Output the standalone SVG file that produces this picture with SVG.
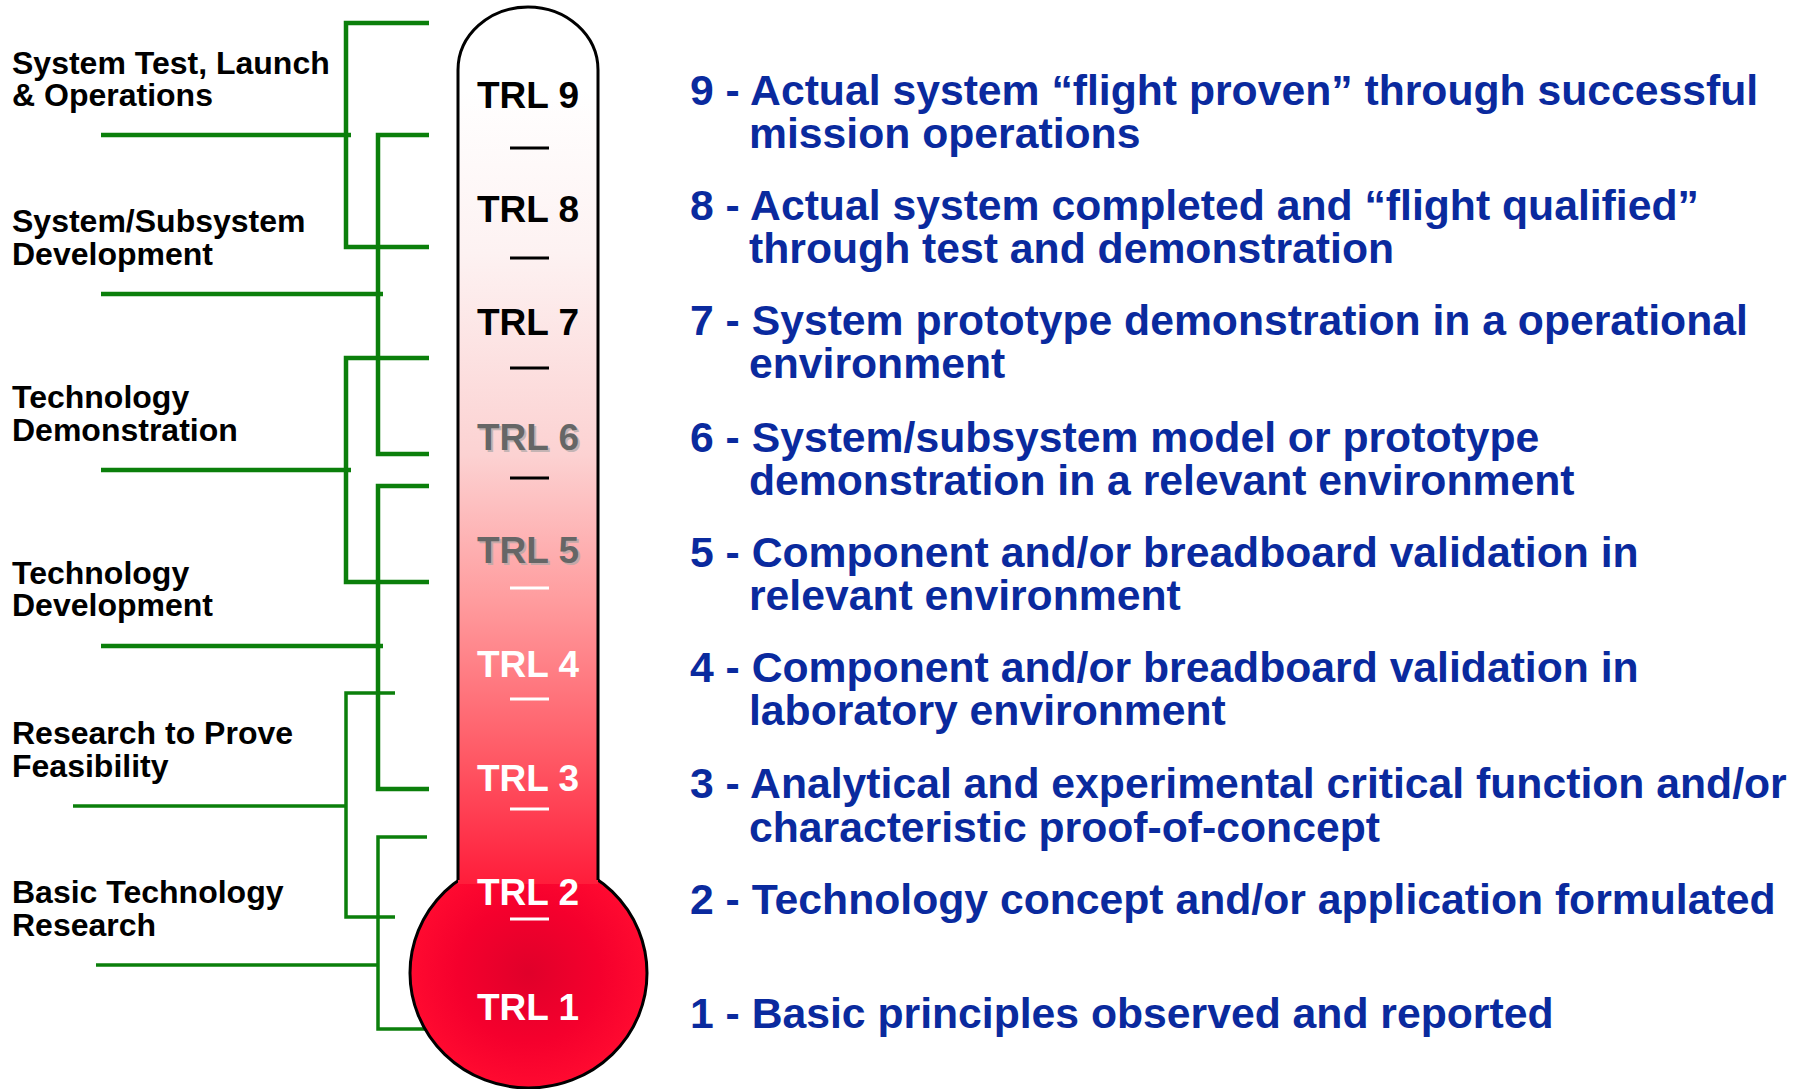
<svg xmlns="http://www.w3.org/2000/svg" width="1804" height="1089" viewBox="0 0 1804 1089">
<defs>
<linearGradient id="tubeGrad" gradientUnits="userSpaceOnUse" x1="0" y1="90" x2="0" y2="900">
<stop offset="0" stop-color="#ffffff"/>
<stop offset="0.2" stop-color="#fdf2f2"/>
<stop offset="0.45" stop-color="#fcd2d2"/>
<stop offset="0.63" stop-color="#ff9c9e"/>
<stop offset="0.82" stop-color="#ff5a66"/>
<stop offset="1" stop-color="#ff1535"/>
</linearGradient>
<radialGradient id="bulbGrad" cx="0.5" cy="0.5" r="0.5">
<stop offset="0" stop-color="#e0002a"/>
<stop offset="0.6" stop-color="#f5002d"/>
<stop offset="1" stop-color="#ff0a30"/>
</radialGradient>
</defs>
<style>
.lbl{font-family:"Liberation Sans",Arial,sans-serif;font-weight:bold;font-size:32px;fill:#000}
.trl{font-family:"Liberation Sans",Arial,sans-serif;font-weight:bold;font-size:37px;text-anchor:middle}
.desc{font-family:"Liberation Sans",Arial,sans-serif;font-weight:bold;font-size:42.7px;fill:#0a2a9e}
.g{fill:none;stroke:#0b7f0b;stroke-width:4.5;stroke-linejoin:miter}
.gt{fill:none;stroke:#0b7f0b;stroke-width:3.5;stroke-linejoin:miter}
.dk{stroke:#000;stroke-width:3}
.dw{stroke:#fff;stroke-width:3}
</style>
<rect x="0" y="0" width="1804" height="1089" fill="#ffffff"/>

<g id="connectors">
<polyline class="g" points="429,23 346,23 346,247 429,247"/>
<line class="g" x1="101" y1="135" x2="351" y2="135"/>
<polyline class="g" points="429,135 378,135 378,454 429,454"/>
<line class="g" x1="101" y1="294" x2="383" y2="294"/>
<polyline class="g" points="429,358 346,358 346,582 429,582"/>
<line class="g" x1="101" y1="470" x2="351" y2="470"/>
<polyline class="g" points="429,486 378,486 378,789 429,789"/>
<line class="g" x1="101" y1="646" x2="383" y2="646"/>
<polyline class="gt" points="395,693 346,693 346,917 395,917"/>
<line class="gt" x1="73" y1="806" x2="346" y2="806"/>
<polyline class="gt" points="427,837 378,837 378,1029 425,1029"/>
<line class="gt" x1="96" y1="965" x2="378" y2="965"/>
</g>

<g id="thermometer">
<ellipse cx="528.5" cy="973" rx="118.5" ry="115" fill="url(#bulbGrad)" stroke="#000" stroke-width="3"/>
<path d="M458,70 A70,63 0 0 1 598,70 L598,884 L458,884 Z" fill="url(#tubeGrad)"/>
<path d="M458,880 L458,70 A70,63 0 0 1 598,70 L598,880" fill="none" stroke="#000" stroke-width="3"/>
</g>

<g id="ticks">
<line class="dk" x1="510" y1="148" x2="549" y2="148"/>
<line class="dk" x1="510" y1="258" x2="549" y2="258"/>
<line class="dk" x1="510" y1="368" x2="549" y2="368"/>
<line class="dk" x1="510" y1="478" x2="549" y2="478"/>
<line class="dw" x1="510" y1="588" x2="549" y2="588"/>
<line class="dw" x1="510" y1="699" x2="549" y2="699"/>
<line class="dw" x1="510" y1="809" x2="549" y2="809"/>
<line class="dw" x1="510" y1="919" x2="549" y2="919"/>
</g>

<g id="trl-labels">
<text class="trl" x="528" y="108" fill="#000">TRL 9</text>
<text class="trl" x="528" y="222" fill="#000">TRL 8</text>
<text class="trl" x="528" y="335" fill="#000">TRL 7</text>
<text class="trl" x="530" y="452" fill="#c4b4b4">TRL 6</text>
<text class="trl" x="528" y="450" fill="#666666">TRL 6</text>
<text class="trl" x="530" y="565" fill="#c4a8a8">TRL 5</text>
<text class="trl" x="528" y="563" fill="#666666">TRL 5</text>
<text class="trl" x="528" y="677" fill="#fff">TRL 4</text>
<text class="trl" x="528" y="791" fill="#fff">TRL 3</text>
<text class="trl" x="528" y="905" fill="#fff">TRL 2</text>
<text class="trl" x="528" y="1020" fill="#fff">TRL 1</text>
</g>

<g id="phase-labels">
<text class="lbl" x="12" y="74">System Test, Launch</text>
<text class="lbl" x="12" y="106">&amp; Operations</text>
<text class="lbl" x="12" y="232">System/Subsystem</text>
<text class="lbl" x="12" y="265">Development</text>
<text class="lbl" x="12" y="408">Technology</text>
<text class="lbl" x="12" y="441">Demonstration</text>
<text class="lbl" x="12" y="584">Technology</text>
<text class="lbl" x="12" y="616">Development</text>
<text class="lbl" x="12" y="744">Research to Prove</text>
<text class="lbl" x="12" y="777">Feasibility</text>
<text class="lbl" x="12" y="903">Basic Technology</text>
<text class="lbl" x="12" y="936">Research</text>
</g>

<g id="descriptions">
<text class="desc" x="690" y="105">9 - Actual system “flight proven” through successful</text>
<text class="desc" x="749" y="148">mission operations</text>
<text class="desc" x="690" y="220">8 - Actual system completed and “flight qualified”</text>
<text class="desc" x="749" y="263">through test and demonstration</text>
<text class="desc" x="690" y="335">7 - System prototype demonstration in a operational</text>
<text class="desc" x="749" y="378">environment</text>
<text class="desc" x="690" y="452">6 - System/subsystem model or prototype</text>
<text class="desc" x="749" y="495">demonstration in a relevant environment</text>
<text class="desc" x="690" y="567">5 - Component and/or breadboard validation in</text>
<text class="desc" x="749" y="610">relevant environment</text>
<text class="desc" x="690" y="682">4 - Component and/or breadboard validation in</text>
<text class="desc" x="749" y="725">laboratory environment</text>
<text class="desc" x="690" y="798">3 - Analytical and experimental critical function and/or</text>
<text class="desc" x="749" y="842">characteristic proof-of-concept</text>
<text class="desc" x="690" y="914">2 - Technology concept and/or application formulated</text>
<text class="desc" x="690" y="1028">1 - Basic principles observed and reported</text>
</g>
</svg>
